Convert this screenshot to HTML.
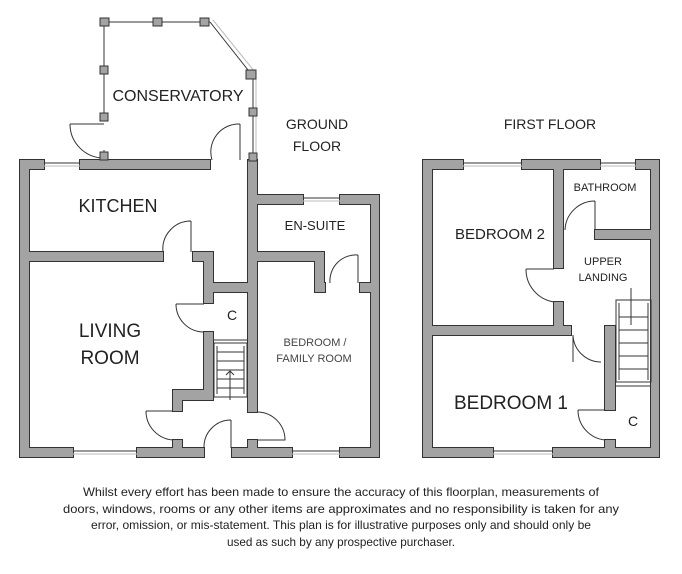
<!DOCTYPE html>
<html><head><meta charset="utf-8"><style>
html,body{margin:0;padding:0;background:#fff;}
svg{display:block;font-family:"Liberation Sans",sans-serif;}
</style></head><body>
<svg width="682" height="574" viewBox="0 0 682 574" xmlns="http://www.w3.org/2000/svg">
<defs>
<g id="walls">
<rect x="20" y="160" width="24" height="9"/>
<rect x="80" y="160" width="130" height="9"/>
<rect x="20" y="160" width="9" height="297"/>
<rect x="20" y="448" width="53" height="9"/>
<rect x="137" y="448" width="67" height="9"/>
<rect x="232" y="448" width="60" height="9"/>
<rect x="340" y="448" width="39" height="9"/>
<rect x="371" y="195" width="8" height="262"/>
<rect x="248" y="195" width="55" height="9"/>
<rect x="340" y="195" width="39" height="9"/>
<rect x="29" y="252" width="134" height="9"/>
<rect x="193" y="252" width="20" height="9"/>
<rect x="204" y="252" width="9" height="51"/>
<rect x="204" y="332" width="9" height="68"/>
<rect x="173" y="390" width="40" height="10"/>
<rect x="173" y="390" width="9" height="21"/>
<rect x="173" y="440" width="9" height="17"/>
<rect x="213" y="283" width="35" height="9"/>
<rect x="248" y="160" width="9" height="252"/>
<rect x="248" y="440" width="9" height="17"/>
<rect x="257" y="252" width="67" height="9"/>
<rect x="315" y="252" width="9" height="40"/>
<rect x="315" y="283" width="10" height="9"/>
<rect x="360" y="283" width="11" height="9"/>
<rect x="423" y="160" width="40" height="9"/>
<rect x="522" y="160" width="78" height="9"/>
<rect x="636" y="160" width="23" height="9"/>
<rect x="423" y="160" width="9" height="297"/>
<rect x="651" y="160" width="8" height="297"/>
<rect x="423" y="448" width="70" height="9"/>
<rect x="553" y="448" width="106" height="9"/>
<rect x="554" y="169" width="9" height="99"/>
<rect x="554" y="302" width="9" height="33"/>
<rect x="432" y="326" width="139" height="9"/>
<rect x="605" y="326" width="10" height="84"/>
<rect x="605" y="440" width="10" height="17"/>
<rect x="595" y="230" width="56" height="9"/>
</g>
</defs>
<use href="#walls" fill="none" stroke="#333" stroke-width="2"/>
<use href="#walls" fill="#a3a3a3" stroke="none"/>
<g stroke="#333" stroke-width="1" fill="none">
<line x1="44" y1="163" x2="80" y2="163"/><line x1="44" y1="166" x2="80" y2="166" stroke="#bbb"/>
<line x1="303" y1="198" x2="340" y2="198"/><line x1="303" y1="201" x2="340" y2="201" stroke="#bbb"/>
<line x1="73" y1="451" x2="137" y2="451"/><line x1="73" y1="454" x2="137" y2="454" stroke="#bbb"/>
<line x1="292" y1="451" x2="340" y2="451"/><line x1="292" y1="454" x2="340" y2="454" stroke="#bbb"/>
<line x1="463" y1="163" x2="522" y2="163"/><line x1="463" y1="166" x2="522" y2="166" stroke="#bbb"/>
<line x1="600" y1="163" x2="636" y2="163"/><line x1="600" y1="166" x2="636" y2="166" stroke="#bbb"/>
<line x1="493" y1="451" x2="553" y2="451"/><line x1="493" y1="454" x2="553" y2="454" stroke="#bbb"/>
<line x1="103" y1="22" x2="210" y2="22"/>
<line x1="104" y1="22" x2="104" y2="120"/>
<line x1="104" y1="150" x2="104" y2="160"/>
<line x1="210" y1="22" x2="252" y2="75"/>
<line x1="213" y1="20" x2="255" y2="72" stroke="#bbb"/>
<line x1="253" y1="75" x2="253" y2="160"/>
<line x1="256" y1="75" x2="256" y2="160" stroke="#bbb"/>
<path d="M70 124 H104 M70 124 A34 34 0 0 0 104 158"/>
<path d="M240 124 V160 M240 124 A28 28 0 0 0 212 160"/>
<path d="M191 221 V252 M191 221 A28 28 0 0 0 163 252"/>
<path d="M176 304 H204 M176 304 A28 28 0 0 0 204 332"/>
<path d="M146 411 H173 M146 411 A29 29 0 0 0 173 440"/>
<path d="M231 420 V448 M231 420 A27 27 0 0 0 204 448"/>
<path d="M257 412 A28 28 0 0 1 285 440 H257"/>
<path d="M358 255 V283 M358 255 A26 26 0 0 0 330 283"/>
<path d="M595 201 V230 M595 201 A30 30 0 0 0 565 230"/>
<path d="M526 269 H554 M526 269 A33 33 0 0 0 554 302"/>
<path d="M573 335 V362 M573 335 A28 28 0 0 0 601 362" />
<path d="M578 410 H605 M578 410 A30 30 0 0 0 605 440"/>
<rect x="214" y="343" width="33" height="54"/>
<line x1="217" y1="346" x2="217" y2="394"/><line x1="244" y1="346" x2="244" y2="394"/>
<line x1="217" y1="352" x2="244" y2="352"/><line x1="217" y1="361" x2="244" y2="361"/><line x1="217" y1="370" x2="244" y2="370"/><line x1="217" y1="379" x2="244" y2="379"/><line x1="217" y1="388" x2="244" y2="388"/>
<line x1="230" y1="371" x2="230" y2="400"/><path d="M226 375 L230 371 L234 375"/>
<line x1="213" y1="340" x2="248" y2="340"/>
<rect x="616" y="300" width="35" height="82"/>
<line x1="619" y1="303" x2="619" y2="380"/><line x1="648" y1="303" x2="648" y2="380"/>
<line x1="619" y1="317" x2="648" y2="317"/><line x1="619" y1="330" x2="648" y2="330"/><line x1="619" y1="343" x2="648" y2="343"/><line x1="619" y1="356" x2="648" y2="356"/><line x1="619" y1="369" x2="648" y2="369"/>
<line x1="631" y1="288" x2="631" y2="325"/>
<line x1="615" y1="386" x2="651" y2="386"/>
</g>
<g fill="#a3a3a3" stroke="#333" stroke-width="1">
<rect x="100" y="18" width="9" height="8"/><rect x="153" y="18" width="9" height="8"/><rect x="200" y="18" width="9" height="8"/>
<rect x="100" y="66" width="8" height="8"/><rect x="100" y="113" width="8" height="8"/><rect x="100" y="152" width="8" height="8"/>
<rect x="246" y="70" width="10" height="9"/><rect x="249" y="108" width="8" height="8"/><rect x="249" y="153" width="8" height="8"/>
</g>
<g fill="#222" text-anchor="middle">
<text x="178" y="101" font-size="16">CONSERVATORY</text>
<text x="317" y="129" font-size="14">GROUND</text>
<text x="317" y="151" font-size="14">FLOOR</text>
<text x="550" y="129" font-size="14">FIRST FLOOR</text>
<text x="118" y="212" font-size="18">KITCHEN</text>
<text x="110" y="337" font-size="19">LIVING</text>
<text x="110" y="364" font-size="19">ROOM</text>
<text x="315" y="230" font-size="13">EN-SUITE</text>
<text x="232" y="320" font-size="14">C</text>
<text x="315" y="346" font-size="11" fill="#444">BEDROOM /</text>
<text x="314" y="362" font-size="11" fill="#444">FAMILY ROOM</text>
<text x="605" y="191" font-size="11">BATHROOM</text>
<text x="500" y="239" font-size="15">BEDROOM 2</text>
<text x="603" y="265" font-size="11">UPPER</text>
<text x="603" y="281" font-size="11">LANDING</text>
<text x="511" y="409" font-size="19">BEDROOM 1</text>
<text x="633" y="426" font-size="14">C</text>
<text x="341" y="496" font-size="12" textLength="516" lengthAdjust="spacingAndGlyphs">Whilst every effort has been made to ensure the accuracy of this floorplan, measurements of</text>
<text x="341" y="513" font-size="12" textLength="556" lengthAdjust="spacingAndGlyphs">doors, windows, rooms or any other items are approximates and no responsibility is taken for any</text>
<text x="341" y="529" font-size="12" textLength="500" lengthAdjust="spacingAndGlyphs">error, omission, or mis-statement. This plan is for illustrative purposes only and should only be</text>
<text x="341" y="546" font-size="12" textLength="228" lengthAdjust="spacingAndGlyphs">used as such by any prospective purchaser.</text>
</g>
</svg>
</body></html>
